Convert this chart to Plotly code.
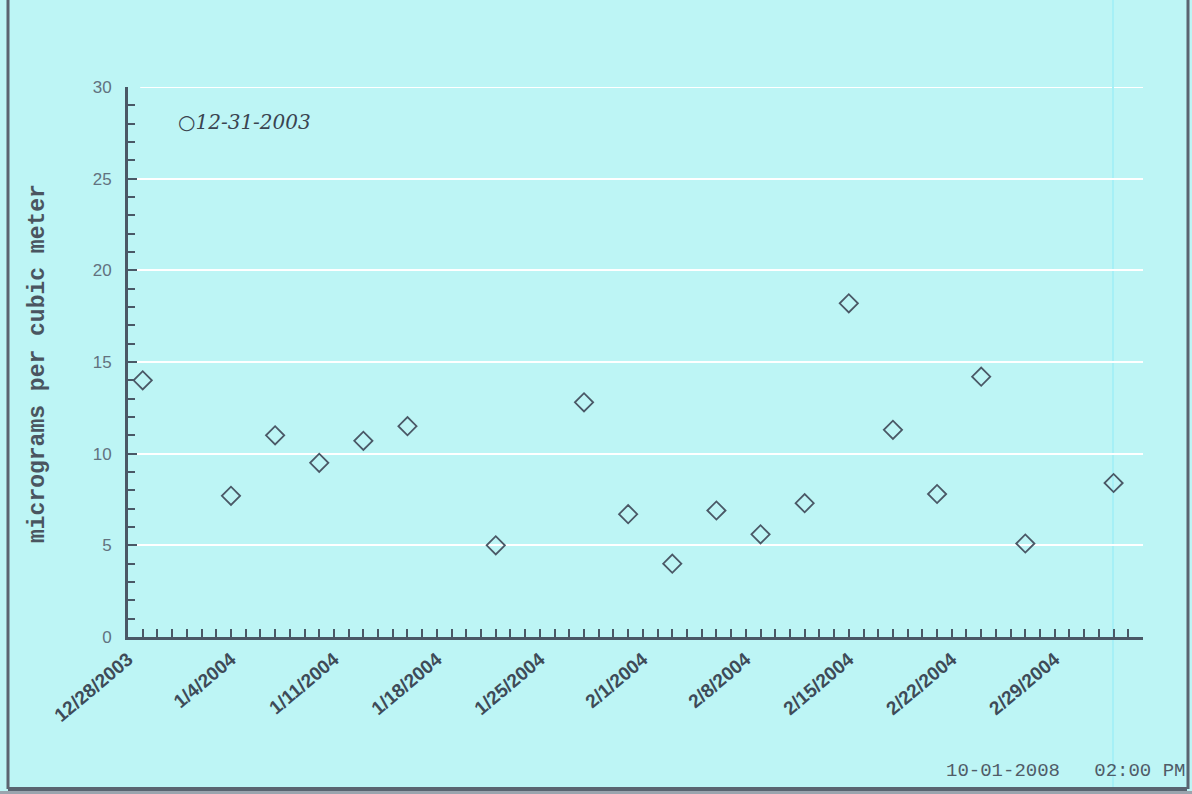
import plotly.graph_objects as go

# ---- data ----
sample_dates = ["2003-12-29", "2004-01-04", "2004-01-07", "2004-01-10", "2004-01-13",
                "2004-01-16", "2004-01-22", "2004-01-28", "2004-01-31", "2004-02-03",
                "2004-02-06", "2004-02-09", "2004-02-12", "2004-02-15", "2004-02-18",
                "2004-02-21", "2004-02-24", "2004-02-27", "2004-03-04"]
concentration = [14.0, 7.7, 11.0, 9.5, 10.7, 11.5, 5.0, 12.8, 6.7, 4.0,
                 6.9, 5.6, 7.3, 18.2, 11.3, 7.8, 14.2, 5.1, 8.4]

tick_dates = ["2003-12-28", "2004-01-04", "2004-01-11", "2004-01-18", "2004-01-25",
              "2004-02-01", "2004-02-08", "2004-02-15", "2004-02-22", "2004-02-29"]
tick_labels = ["12/28/2003", "1/4/2004", "1/11/2004", "1/18/2004", "1/25/2004",
               "2/1/2004", "2/8/2004", "2/15/2004", "2/22/2004", "2/29/2004"]
y_ticks = [0, 5, 10, 15, 20, 25, 30]
x_range = ["2003-12-28", "2004-03-06"]

BG = "#bdf5f5"
AX = "#4a5866"

fig = go.Figure()
fig.add_trace(go.Scatter(
    x=sample_dates, y=concentration, mode="markers",
    marker=dict(symbol="diamond-open", size=14, color=AX, line=dict(width=1.8, color=AX)),
    showlegend=False, hoverinfo="x+y"))

# plot area: x 128..1143 px, y 87..637 px
L, R, T, B = 128, 1192 - 1143, 87, 794 - 637
W, H = 1143 - 128, 637 - 87

fig.update_layout(
    width=1192, height=794,
    margin=dict(l=L, r=R, t=T, b=B),
    paper_bgcolor=BG, plot_bgcolor=BG,
    font=dict(family="Liberation Sans, Arial, sans-serif", color=AX),
)

fig.update_xaxes(
    type="date", range=x_range,
    tickvals=tick_dates, ticktext=tick_labels, tickangle=-40,
    tickfont=dict(size=19, color="#3e4b58", family="Liberation Sans, Arial", weight="bold"),
    ticks="inside", ticklen=8, tickwidth=2, tickcolor=AX,
    minor=dict(dtick=86400000, tick0="2003-12-28", ticks="inside", ticklen=8,
               tickwidth=2, tickcolor=AX, showgrid=False),
    showline=True, linewidth=3, linecolor=AX,
    showgrid=False, zeroline=False, ticklabelstandoff=1,
)
fig.update_yaxes(
    range=[0, 30], tickvals=y_ticks,
    tickfont=dict(size=17, color="#62727f", family="Liberation Sans, Arial"),
    ticks="inside", ticklen=9, tickwidth=2, tickcolor=AX,
    minor=dict(dtick=1, ticks="inside", ticklen=7, tickwidth=2, tickcolor=AX, showgrid=False),
    showline=True, linewidth=3, linecolor=AX,
    showgrid=True, gridcolor="white", gridwidth=2, zeroline=False,
    ticklabelstandoff=10,
)

# top gridline (at the edge of the range)
fig.add_shape(type="line", xref="paper", yref="y", x0=0.012, x1=1, y0=max(y_ticks), y1=max(y_ticks),
              line=dict(color="white", width=2), layer="below")

def px_x(p):
    return (p - L) / W

def px_y(p):
    return (637 - p) / H

# y-axis title
fig.add_annotation(
    text="micrograms per cubic meter", textangle=-90,
    xref="paper", yref="paper", x=px_x(23), y=px_y(364), showarrow=False,
    font=dict(family="Liberation Mono, DejaVu Sans Mono, monospace", size=23,
              color="#4a5560", weight="bold"))

# timestamp
fig.add_annotation(
    text="10-01-2008&nbsp;&nbsp;&nbsp;02:00 PM",
    xref="paper", yref="paper", x=px_x(1187), y=px_y(771),
    xanchor="right", yanchor="middle", showarrow=False,
    font=dict(family="Liberation Mono, DejaVu Sans Mono, monospace", size=19, color="#505c68"))

# handwritten note
fig.add_annotation(
    text="○12-31-2003",
    xref="paper", yref="paper", x=px_x(176), y=px_y(122),
    xanchor="left", yanchor="middle", showarrow=False,
    font=dict(family="DejaVu Serif, serif", size=20, color="#3a4450", style="italic"))

# faint scan streak
fig.add_shape(type="line", xref="paper", yref="paper",
              x0=px_x(1113), x1=px_x(1113), y0=px_y(787), y1=px_y(0),
              line=dict(color="#a6f0f6", width=2), layer="below")

# scanned page border
fig.add_shape(type="line", xref="paper", yref="paper",
              x0=px_x(8), x1=px_x(8), y0=px_y(789), y1=px_y(0),
              line=dict(color="#5a6470", width=3))
fig.add_shape(type="line", xref="paper", yref="paper",
              x0=px_x(8), x1=px_x(1187), y0=px_y(789), y1=px_y(789),
              line=dict(color="#5a6470", width=4))
fig.add_shape(type="line", xref="paper", yref="paper",
              x0=px_x(1188), x1=px_x(1188), y0=px_y(789), y1=px_y(0),
              line=dict(color="#5a6470", width=3))
fig.add_shape(type="rect", xref="paper", yref="paper",
              x0=px_x(0), x1=px_x(1192), y0=px_y(794), y1=px_y(791),
              line=dict(width=0), fillcolor="#9aa4ae", layer="below")

fig.write_html("out.html", config={"displayModeBar": False},
               post_script="document.body.style.margin='0';document.body.style.overflow='hidden';")
